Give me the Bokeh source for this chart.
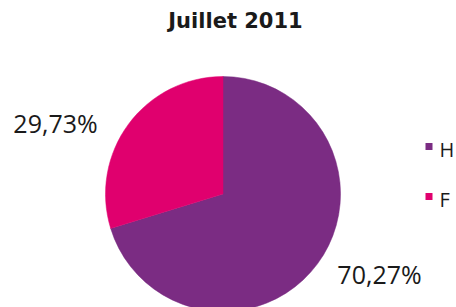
import numpy as np
from bokeh.plotting import figure
from bokeh.models import Range1d, ColumnDataSource
from bokeh.core.properties import value
from bokeh.embed import file_html
from bokeh.resources import INLINE

title = "Juillet 2011"
categories = ["H", "F"]
shares = [70.27, 29.73]
colors = ["#7B2C83", "#E0006E"]
labels = ["70,27%", "29,73%"]

W, H = 456, 307
p = figure(width=W, height=H, output_backend="svg", toolbar_location=None,
           x_range=Range1d(0, W), y_range=Range1d(-H, 0),
           min_border=0)
p.axis.visible = False
p.grid.visible = False
p.outline_line_color = None
p.background_fill_color = "white"

cx, cy, r = 222.5, -193.5, 117.5
fr = np.array(shares) / sum(shares)
starts, ends = [], []
a = np.pi / 2
for f in fr:
    ends.append(a)
    a = a - f * 2 * np.pi
    starts.append(a)
src = ColumnDataSource(dict(start=starts, end=ends, color=colors))
p.wedge(x=cx, y=cy, radius=r, start_angle="start", end_angle="end",
        fill_color="color", line_color="color", line_width=0.5, source=src)

# percentage labels (outside)
lab_pos = [(379, -273), (55, -122)]
p.text(x=[q[0] for q in lab_pos], y=[q[1] for q in lab_pos], text=labels,
       text_font=value("Open Sans"), text_font_size="25px", text_color="#1a1a1a",
       text_align="center", text_baseline="middle")

p.text(x=[235], y=[-20], text=[title], text_font=value("DejaVu Sans"),
       text_font_style="bold", text_font_size="21px", text_color="#1a1a1a",
       text_align="center", text_baseline="middle")

# legend
sq_y = [-146, -196]
txt_y = [-149, -199]
p.rect(x=[428.5] * 2, y=sq_y, width=7, height=7, fill_color=colors, line_color=None)
p.text(x=[439] * 2, y=txt_y, text=categories, text_font=value("Open Sans"),
       text_font_size="20px", text_color="#1a1a1a", text_baseline="middle")

open("out.html", "w").write(file_html(p, INLINE))
